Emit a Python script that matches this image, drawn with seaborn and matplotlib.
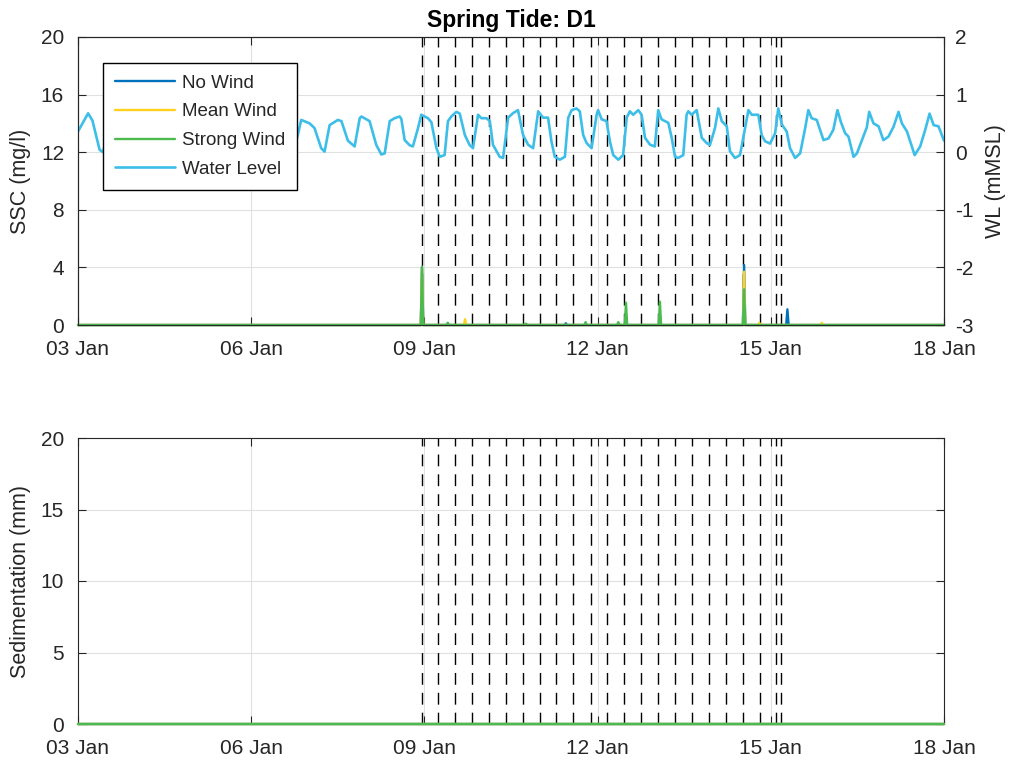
import numpy as np
import pandas as pd
import matplotlib
matplotlib.use("Agg")
import matplotlib.pyplot as plt
import seaborn as sns

# ---------------- data (time in hours since 03 Jan 00:00) ----------------
tick_hours = [0, 72, 144, 216, 288, 360]
tick_labels = ["03 Jan", "06 Jan", "09 Jan", "12 Jan", "15 Jan", "18 Jan"]

wl_hours = [0.0, 4.2, 6.0, 9.0, 10.5, 13.0, 15.1, 18.0, 21.8, 24.3, 27.6, 30.5,
            35.1, 37.6, 40.9, 43.8, 48.4, 50.9, 54.2, 57.1, 61.7, 64.2, 67.5, 70.5,
            75.0, 77.5, 80.9, 83.8, 88.8, 90.7, 92.8, 96.3, 98.3, 101.1, 102.5,
            104.6, 108.0, 109.5, 112.2, 115.0, 117.1, 117.8, 121.2, 124.0, 126.1,
            127.5, 129.6, 131.6, 133.7, 134.4, 135.8, 137.9, 139.2, 141.3, 142.7,
            145.5, 146.9, 149.0, 150.4, 152.4, 153.8, 155.2, 157.3, 158.7, 160.8,
            162.8, 164.2, 166.3, 167.7, 169.8, 171.2, 172.5, 175.3, 176.7, 178.8,
            180.9, 182.9, 185.0, 187.1, 189.2, 191.3, 193.3, 195.4, 196.8, 198.2,
            200.3, 202.4, 203.8, 205.2, 207.2, 208.6, 210.0, 211.4, 213.5, 215.6,
            216.2, 217.7, 219.7, 221.1, 222.5, 224.6, 226.6, 228.1, 229.4, 230.8,
            232.9, 234.3, 235.7, 237.8, 239.8, 241.2, 242.6, 245.4, 246.8, 248.2,
            249.5, 251.6, 253.0, 253.7, 255.1, 257.2, 259.3, 261.3, 262.7, 264.8,
            266.2, 267.6, 269.7, 271.0, 273.1, 275.2, 277.3, 278.7, 280.1, 282.8,
            284.2, 285.6, 287.7, 289.8, 291.1, 292.6, 294.6, 296.0, 298.1, 300.2,
            302.3, 303.6, 305.0, 307.1, 309.9, 312.0, 314.0, 315.7, 317.1, 318.9,
            320.3, 322.4, 323.8, 325.9, 327.9, 328.9, 330.7, 332.8, 334.8, 336.9,
            339.0, 341.1, 342.5, 344.6, 347.8, 350.1, 352.2, 354.0, 355.7, 357.7,
            360.0]
wl_values = [0.36, 0.675, 0.55, 0.04, 0.0, 0.55, 0.6, 0.3, 0.0, 0.55, 0.6, 0.3,
             0.0, 0.55, 0.55, 0.3, -0.02, 0.55, 0.55, 0.25, 0.0, 0.55, 0.55, 0.25,
             0.0, 0.55, 0.5, 0.25, 0.05, 0.18, 0.56, 0.50, 0.42, 0.07, 0.01,
             0.47, 0.56, 0.54, 0.20, 0.10, 0.59, 0.62, 0.54, 0.125, -0.04,
             -0.02, 0.54, 0.59, 0.62, 0.58, 0.21, 0.12, 0.10, 0.41, 0.65,
             0.59, 0.52, 0.07, -0.08, -0.05, 0.54, 0.62, 0.70, 0.67, 0.30,
             0.125, 0.07, 0.65, 0.59, 0.59, 0.54, 0.13, -0.08, -0.10, 0.60,
             0.68, 0.73, 0.30, 0.13, 0.07, 0.71, 0.60, 0.60, 0.19, -0.08,
             -0.13, -0.08, 0.60, 0.73, 0.76, 0.71, 0.30, 0.16, 0.07, 0.65,
             0.73, 0.57, 0.54, 0.19, -0.05, -0.13, -0.05, 0.60, 0.71, 0.65,
             0.73, 0.65, 0.25, 0.13, 0.10, 0.73, 0.57, 0.51, 0.25, -0.08,
             -0.10, -0.05, 0.65, 0.71, 0.65, 0.73, 0.25, 0.16, 0.125, 0.42,
             0.76, 0.54, 0.45, 0.02, -0.10, -0.05, 0.42, 0.73, 0.65, 0.65,
             0.30, 0.19, 0.15, 0.33, 0.76, 0.48, 0.36, 0.07, -0.10, -0.02,
             0.42, 0.73, 0.59, 0.56, 0.21, 0.24, 0.39, 0.73, 0.53, 0.33,
             0.27, -0.08, -0.02, 0.21, 0.43, 0.70, 0.50, 0.45, 0.21, 0.27,
             0.44, 0.70, 0.50, 0.36, -0.05, 0.10, 0.39, 0.67, 0.47, 0.45,
             0.20]

# SSC spikes (mg/l) for each scenario; zero elsewhere
nowind_hours = [143.0, 202.8, 276.9, 294.9]
nowind_ssc = [4.0, 0.12, 4.17, 1.09]
meanwind_hours = [143.0, 160.9, 276.9, 283.2, 309.2]
meanwind_ssc = [3.9, 0.4, 3.7, 0.15, 0.15]
strongwind_hours = [143.0, 153.7, 186.2, 211.0, 224.6, 227.8, 241.9, 276.9]
strongwind_ssc = [4.05, 0.16, 0.1, 0.2, 0.2, 1.55, 1.62, 2.48]

# Sedimentation (mm): flat zero for all scenarios
sed_hours = [0.0, 360.0]
sed_nowind = [0.0, 0.0]
sed_meanwind = [0.0, 0.0]
sed_strongwind = [0.0, 0.0]

# event markers (dashed vertical lines)
event_hours = [143.0, 149.7, 156.7, 163.8, 170.9, 177.8, 184.9, 192.0, 198.9,
               205.8, 213.1, 220.1, 227.1, 234.0, 241.2, 248.2, 255.2, 262.2,
               269.3, 276.3, 283.4, 290.1, 292.1]

# ---------------- style ----------------
sns.set_style("white")
plt.rcParams['font.family'] = ['Liberation Sans', 'DejaVu Sans']
plt.rcParams['axes.unicode_minus'] = False
AX = '#262626'
C_NO, C_MEAN, C_STRONG, C_WL = '#0072BD', '#FFD21F', '#4CBB4F', '#3DBEE8'
GRID = '#e0e0e0'


def spike_frame(hours, vals, half=0.5):
    t, v = [0.0], [0.0]
    for h, s in sorted(zip(hours, vals)):
        t += [h - half, h, h + half]
        v += [0.0, s, 0.0]
    t.append(360.0)
    v.append(0.0)
    return pd.DataFrame({'t': t, 'v': v})


fig = plt.figure(figsize=(10.10, 7.62), dpi=100)
W = 1010.0
H = 762.0
ax1 = fig.add_axes([78 / W, 1 - 325 / H, (944 - 78) / W, 288 / H])
ax3 = fig.add_axes([78 / W, 1 - 724 / H, (944 - 78) / W, 286 / H])

handles = []
for hrs, vals, col in [(nowind_hours, nowind_ssc, C_NO),
                       (meanwind_hours, meanwind_ssc, C_MEAN),
                       (strongwind_hours, strongwind_ssc, C_STRONG)]:
    df = spike_frame(hrs, vals)
    sns.lineplot(data=df, x='t', y='v', ax=ax1, color=col, lw=1.7,
                 estimator=None, sort=False, legend=False)
    ln = ax1.get_lines()[-1]
    ln.set_clip_on(False)
    ln.set_zorder(3)
    handles.append(ln)

for ax in (ax1, ax3):
    for h in event_hours:
        ax.axvline(h, color='black', lw=1.0, dashes=(8.5, 5.8), zorder=1.5)

ax2 = ax1.twinx()
wl_df = pd.DataFrame({'t': wl_hours, 'wl': wl_values})
sns.lineplot(data=wl_df, x='t', y='wl', ax=ax2, color=C_WL, lw=1.9,
             estimator=None, sort=False, legend=False)
handles.append(ax2.get_lines()[-1])

for vals, col in [(sed_nowind, C_NO), (sed_meanwind, C_MEAN), (sed_strongwind, C_STRONG)]:
    sdf = pd.DataFrame({'t': sed_hours, 'v': vals})
    sns.lineplot(data=sdf, x='t', y='v', ax=ax3, color=col, lw=1.7,
                 estimator=None, sort=False, legend=False)
    ln = ax3.get_lines()[-1]
    ln.set_clip_on(False)
    ln.set_zorder(3)

# axes limits & ticks
for ax in (ax1, ax3):
    ax.set_xlim(0, 360)
    ax.set_xticks(tick_hours)
    ax.set_xticklabels(tick_labels)
    ax.set_xlabel('')
    ax.grid(True, color=GRID, lw=0.8)
    ax.set_axisbelow(True)
    for s in ax.spines.values():
        s.set_color(AX)
        s.set_linewidth(0.8)

ax1.set_ylim(0, 20)
ax1.set_yticks([0, 4, 8, 12, 16, 20])
ax2.set_ylim(-3, 2)
ax2.set_yticks([-3, -2, -1, 0, 1, 2])
ax3.set_ylim(0, 20)
ax3.set_yticks([0, 5, 10, 15, 20])

ax1.tick_params(axis='both', direction='in', length=6, width=0.8, colors=AX,
                labelsize=15, top=True, bottom=True, left=True, right=False)
ax1.tick_params(axis='x', pad=11)
ax1.tick_params(axis='y', pad=10)
ax2.tick_params(axis='y', direction='in', length=6, width=0.8, colors=AX,
                labelsize=15, right=True, left=False, pad=8)
ax3.tick_params(axis='both', direction='in', length=6, width=0.8, colors=AX,
                labelsize=15, top=True, bottom=True, left=True, right=True)
ax3.tick_params(axis='x', pad=11)
ax3.tick_params(axis='y', pad=10)
for s in ax2.spines.values():
    s.set_color(AX)
    s.set_linewidth(0.8)

ax1.set_ylabel('SSC (mg/l)', fontsize=15.5, color=AX, labelpad=7)
ax2.set_ylabel('WL (mMSL)', fontsize=15.5, color=AX, labelpad=8)
ax3.set_ylabel('Sedimentation (mm)', fontsize=15.5, color=AX, labelpad=7)
ax1.set_title('Spring Tide: D1', fontsize=16.5, fontweight='bold', color='black', pad=7)

leg = ax2.legend(handles=handles,
                 labels=['No Wind', 'Mean Wind', 'Strong Wind', 'Water Level'],
                 loc='upper left', bbox_to_anchor=(0.029, 0.91), fontsize=13.5,
                 frameon=True, fancybox=False, shadow=False, framealpha=1,
                 edgecolor='black', handlelength=3.2, handletextpad=0.4,
                 labelspacing=0.62, borderpad=0.62, borderaxespad=0.0)
leg.get_frame().set_linewidth(1.0)
for t in leg.get_texts():
    t.set_color(AX)

fig.savefig('out.png', dpi=100)
